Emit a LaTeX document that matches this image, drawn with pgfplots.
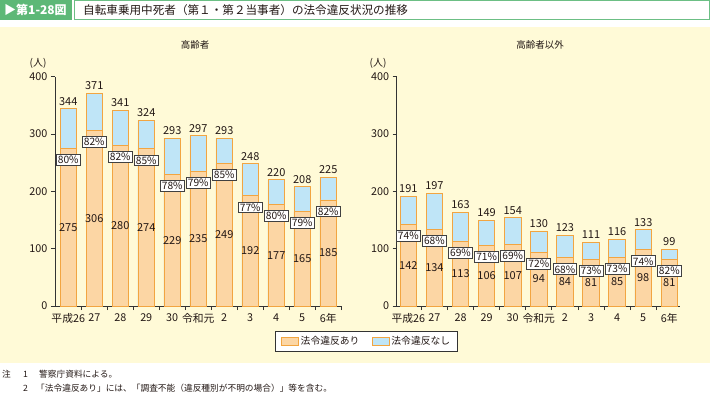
\documentclass[border=0pt]{standalone}
\usepackage{fontspec}
\setmainfont{Noto Sans CJK JP}
\usepackage{pgfplots}
\usepackage{pgfplotstable}
\pgfplotsset{compat=1.18}

\definecolor{bg}{HTML}{FFFAD7}
\definecolor{barO}{HTML}{FCD6A4}
\definecolor{barB}{HTML}{BFE5F7}
\definecolor{edge}{HTML}{F2A541}
\definecolor{grn}{HTML}{5DB877}
\definecolor{grnl}{HTML}{6CBF85}
\definecolor{txt}{HTML}{231815}

\pgfplotstableread{
x a t p
0 275 344 80
1 306 371 82
2 280 341 82
3 274 324 85
4 229 293 78
5 235 297 79
6 249 293 85
7 192 248 77
8 177 220 80
9 165 208 79
10 185 225 82
}\elder

\pgfplotstableread{
x a t p
0 142 191 74
1 134 197 68
2 113 163 69
3 106 149 71
4 107 154 69
5 94 130 72
6 84 123 68
7 81 111 73
8 85 116 73
9 98 133 74
10 81 99 82
}\others

\pgfplotsset{
  panel/.style={
    scale only axis, anchor=south west, height=229.3pt,
    ymin=0, ymax=400, ytick={0,100,200,300,400},
    axis lines=left, axis line style={-, draw=black!80, line width=0.8pt},
    tick align=outside, major tick length=4pt, minor tick length=4pt,
    xtick={0,...,10},
    xticklabels={平成26,27,28,29,30,令和元,2,3,4,5,6年},
    major x tick style={draw=none},
    minor xtick={0.5,1.5,...,10.5},
    tick style={black!80, line width=0.8pt},
    tick label style={font=\fontsize{10.8}{12}\selectfont, text=txt},
    /pgf/number format/assume math mode=true,
    clip=false,
  },
  totbar/.style={ybar, bar width=16.5pt, bar shift=0pt, fill=barB, draw=edge, line width=0.9pt,
    nodes near coords, forget plot,
    every node near coord/.append style={font=\fontsize{11}{12}\selectfont, text=txt, inner sep=2pt, yshift=1pt}},
  lowbar/.style={ybar, bar width=16.5pt, bar shift=0pt, fill=barO, draw=edge, line width=0.9pt, forget plot},
  midlab/.style={draw=none, forget plot, nodes near coords, point meta=explicit symbolic,
    every node near coord/.append style={anchor=center, font=\fontsize{11}{12}\selectfont, text=txt}},
  pctlab/.style={draw=none, forget plot, nodes near coords={\pgfplotspointmeta\%}, point meta=explicit symbolic,
    every node near coord/.append style={anchor=center, draw=black!75, line width=0.8pt, fill=white,
      inner sep=1.6pt, font=\fontsize{10.2}{11}\selectfont, text=txt}},
}

\begin{document}
\begin{tikzpicture}
\path[use as bounding box] (0pt,0pt) rectangle (710pt,397pt);
% background panel
\fill[bg] (0pt,34.3pt) rectangle (710pt,370.3pt);
% title
\fill[grn] (0pt,377pt) rectangle (72pt,397pt);
\node[anchor=west, inner sep=0pt, text=white] at (4pt,387pt) {\fontsize{12}{13}\selectfont\bfseries ▶第1-28図};
\draw[grnl, line width=1.3pt, fill=white] (74.6pt,377.6pt) rectangle (709.3pt,396.4pt);
\node[anchor=west, inner sep=0pt, text=txt] at (83pt,387pt) {\fontsize{11.6}{13}\selectfont 自転車乗用中死者（第１・第２当事者）の法令違反状況の推移};

% panel titles and units
\node[text=txt, inner sep=0pt] at (195pt,352pt) {\fontsize{9.5}{11}\selectfont 高齢者};
\node[text=txt, inner sep=0pt] at (540pt,352pt) {\fontsize{9.5}{11}\selectfont 高齢者以外};
\node[text=txt, inner sep=0pt] at (38pt,334pt) {\fontsize{10}{11}\selectfont (人)};
\node[text=txt, inner sep=0pt] at (378pt,334pt) {\fontsize{10}{11}\selectfont (人)};

\begin{axis}[panel, at={(55pt,91pt)}, width=287pt, xmin=-0.51, xmax=10.53,
  legend columns=2,
  legend style={at={(rel axis cs:1.0854,-0.1548)}, anchor=center, draw=black!80, line width=0.8pt,
    fill=white, font=\fontsize{9.8}{11}\selectfont, text=txt,
    inner xsep=5pt, inner ysep=3pt,
    /tikz/every even column/.append style={column sep=10pt}},
  legend image code/.code={\draw[#1] (0pt,-3.5pt) rectangle (17pt,4pt);},
]
\addlegendimage{fill=barO, draw=edge, line width=0.9pt}
\addlegendentry{法令違反あり}
\addlegendimage{fill=barB, draw=edge, line width=0.9pt}
\addlegendentry{法令違反なし}
\addplot[totbar] table[x=x, y=t] {\elder};
\addplot[lowbar] table[x=x, y=a] {\elder};
\addplot[midlab] table[x=x, y expr=\thisrow{a}/2, meta=a] {\elder};
\addplot[pctlab] table[x=x, y expr=\thisrow{a}-20, meta=p] {\elder};
\end{axis}

\begin{axis}[panel, at={(396.7pt,91pt)}, width=283.3pt, xmin=-0.445, xmax=10.41]
\addplot[totbar] table[x=x, y=t] {\others};
\addplot[lowbar] table[x=x, y=a] {\others};
\addplot[midlab] table[x=x, y expr=\thisrow{a}/2, meta=a] {\others};
\addplot[pctlab] table[x=x, y expr=\thisrow{a}-20, meta=p] {\others};
\end{axis}

% notes
\node[anchor=west, inner sep=0pt, text=txt] at (2pt,23pt) {\fontsize{8.7}{10}\selectfont 注};
\node[anchor=west, inner sep=0pt, text=txt] at (23pt,23pt) {\fontsize{8.7}{10}\selectfont 1};
\node[anchor=west, inner sep=0pt, text=txt] at (39pt,23pt) {\fontsize{8.7}{10}\selectfont 警察庁資料による。};
\node[anchor=west, inner sep=0pt, text=txt] at (23pt,9pt) {\fontsize{8.7}{10}\selectfont 2};
\node[anchor=west, inner sep=0pt, text=txt] at (36pt,9pt) {\fontsize{8.7}{10}\selectfont 「法令違反あり」には、「調査不能（違反種別が不明の場合）」等を含む。};
\end{tikzpicture}
\end{document}
